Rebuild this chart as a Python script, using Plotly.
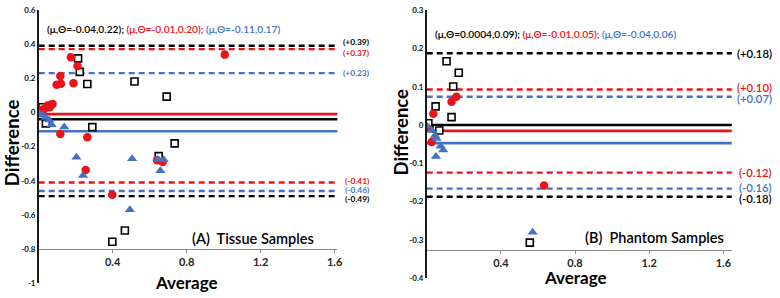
import plotly.graph_objects as go

W, H = 780, 298

# ---------------- Panel A : Tissue samples ----------------
sqA_x = [0.0, 0.02, 0.039, 0.213, 0.222, 0.263, 0.518, 0.692, 0.29, 0.735, 0.649, 0.466, 0.398]
sqA_y = [0.01, 0.03, -0.064, 0.316, 0.237, 0.166, 0.181, 0.092, -0.086, -0.181, -0.256, -0.691, -0.757]
rdA_x = [0.004, 0.02, 0.03, 0.048, 0.06, 0.065, 0.075, 0.117, 0.097, 0.12, 0.188, 0.174, 0.21, 1.006,
         0.117, 0.263, 0.64, 0.67, 0.254, 0.398]
rdA_y = [0.002, 0.015, 0.02, 0.04, 0.03, 0.045, 0.049, 0.213, 0.162, 0.168, 0.171, 0.322, 0.271, 0.338,
         -0.126, -0.146, -0.28, -0.29, -0.337, -0.482]
blA_x = [0.004, 0.02, 0.038, 0.057, 0.07, 0.138, 0.204, 0.505, 0.645, 0.676, 0.658, 0.24, 0.493]
blA_y = [-0.008, -0.017, -0.03, -0.045, -0.073, -0.086, -0.262, -0.271, -0.275, -0.277, -0.341, -0.369, -0.569]
meanA = [-0.04, -0.01, -0.11]          # black, red, blue
upperA = [0.39, 0.37, 0.23]
lowerA = [-0.49, -0.41, -0.46]
upperA_txt = ["(+0.39)", "(+0.37)", "(+0.23)"]
lowerA_txt = ["(-0.49)", "(-0.41)", "(-0.46)"]
statsA = ["(μ,Θ=-0.04,0.22); ", "(μ,Θ=-0.01,0.20); ", "(μ,Θ=-0.11,0.17)"]
yticksA = [0.6, 0.4, 0.2, 0, -0.2, -0.4, -0.6, -0.8, -1]
yticksA_txt = ["0.6", "0.4", "0.2", "0", "-0.2", "-0.4", "-0.6", "-0.8", "-1"]

# ---------------- Panel B : Phantom samples ----------------
sqB_x = [0.009, 0.053, 0.068, 0.048, 0.134, 0.143, 0.107, 0.173, 0.556]
sqB_y = [0.005, -0.009, -0.014, 0.049, 0.021, 0.101, 0.167, 0.137, -0.307]
rdB_x = [0.0, 0.027, 0.036, 0.134, 0.16, 0.633]
rdB_y = [-0.006, -0.044, 0.03, 0.061, 0.074, -0.158]
blB_x = [0.0, 0.027, 0.045, 0.053, 0.075, 0.089, 0.05, 0.571]
blB_y = [-0.002, -0.014, -0.027, -0.035, -0.055, -0.065, -0.082, -0.28]
meanB = [0.0004, -0.015, -0.047]
upperB = [0.188, 0.093, 0.074]
lowerB = [-0.187, -0.124, -0.166]
upperB_txt = ["(+0.18)", "(+0.10)", "(+0.07)"]
lowerB_txt = ["(-0.18)", "(-0.12)", "(-0.16)"]
statsB = ["(μ,Θ=0.0004,0.09); ", "(μ,Θ=-0.01,0.05); ", "(μ,Θ=-0.04,0.06)"]
yticksB = [0.3, 0.2, 0.1, 0, -0.1, -0.2, -0.3, -0.4]
yticksB_txt = ["0.3", "0.2", "0.1", "0", "-0.1", "-0.2", "-0.3", "-0.4"]

xticks = [0.4, 0.8, 1.2, 1.6]
xticks_txt = ["0.4", "0.8", "1.2", "1.6"]

BLACK, RED, BLUE = "#000000", "#E8131B", "#4472C4"
COLORS = [BLACK, RED, BLUE]
FONT = "Lato"

fig = go.Figure()


def px(x):
    return x / W


def py(y):
    return 1 - y / H


def panel(xa, ya, sqx, sqy, rdx, rdy, blx, bly, means, uppers, lowers, xend, xend_mean):
    for c, v in zip(COLORS, means):
        fig.add_trace(go.Scatter(x=[0, xend_mean], y=[v, v], mode="lines",
                                 line=dict(color=c, width=2.6), xaxis=xa, yaxis=ya,
                                 hoverinfo="skip", showlegend=False))
    for c, v in list(zip(COLORS, uppers)) + list(zip(COLORS, lowers)):
        fig.add_trace(go.Scatter(x=[0, xend], y=[v, v], mode="lines",
                                 line=dict(color=c, width=2.4, dash="6px,4px"), xaxis=xa, yaxis=ya,
                                 hoverinfo="skip", showlegend=False))
    fig.add_trace(go.Scatter(x=sqx, y=sqy, mode="markers", xaxis=xa, yaxis=ya, showlegend=False,
                             marker=dict(symbol="square", size=7, color="white",
                                         line=dict(color=BLACK, width=1.6))))
    fig.add_trace(go.Scatter(x=rdx, y=rdy, mode="markers", xaxis=xa, yaxis=ya, showlegend=False,
                             marker=dict(symbol="circle", size=8.5, color=RED, line=dict(width=0))))
    fig.add_trace(go.Scatter(x=blx, y=bly, mode="markers", xaxis=xa, yaxis=ya, showlegend=False,
                             marker=dict(symbol="triangle-up", size=9, color=BLUE, line=dict(width=0))))


panel("x", "y", sqA_x, sqA_y, rdA_x, rdA_y, blA_x, blA_y, meanA, upperA, lowerA, 1.6, 1.62)
panel("x2", "y2", sqB_x, sqB_y, rdB_x, rdB_y, blB_x, blB_y, meanB, upperB, lowerB, 1.645, 1.645)

# layout geometry (pixels)
yA_dom = [py(288), py(5)]
yB_dom = [py(282.7), py(5.5)]
yA_rng = [-1, 0.6]
yB_rng = [-0.4, 0.3]
crossA, crossB = -0.8, -0.325


def axis_pos(dom, rng, cross):
    return dom[0] + (cross - rng[0]) / (rng[1] - rng[0]) * (dom[1] - dom[0])


xcommon = dict(showgrid=False, zeroline=False, showline=True, linecolor="#8C8C8C", linewidth=1,
               ticks="outside", ticklen=3, tickcolor="#8C8C8C", tickvals=xticks, ticktext=xticks_txt,
               tickfont=dict(family=FONT, size=11, color="#262626", weight="bold"), anchor="free")
ycommon = dict(showgrid=False, zeroline=False, showline=True, linecolor="#1A1A1A", linewidth=1.6,
               ticks="", tickfont=dict(family=FONT, size=8, color="#111111", weight="bold"))

fig.update_layout(
    width=W, height=H, margin=dict(l=0, r=0, t=0, b=0),
    paper_bgcolor="white", plot_bgcolor="rgba(0,0,0,0)", showlegend=False,
    xaxis=dict(domain=[px(39), px(340)], range=[0, 1.615], position=axis_pos(yA_dom, yA_rng, crossA), **xcommon),
    yaxis=dict(domain=yA_dom, range=yA_rng, anchor="x", tickvals=yticksA, ticktext=yticksA_txt, **ycommon),
    xaxis2=dict(domain=[px(430), px(738)], range=[0, 1.648], position=axis_pos(yB_dom, yB_rng, crossB), **xcommon),
    yaxis2=dict(domain=yB_dom, range=yB_rng, anchor="x2", tickvals=yticksB, ticktext=yticksB_txt, **ycommon),
)

ann = []


def stats_text(parts):
    return "".join(f'<span style="color:{c}">{t}</span>' for c, t in zip(COLORS, parts))


ann.append(dict(text=stats_text(statsA), x=px(45), y=py(25), xref="paper", yref="paper",
                xanchor="left", yanchor="middle", showarrow=False,
                font=dict(family=FONT, size=10.2, color=BLACK, weight=600)))
ann.append(dict(text=stats_text(statsB), x=px(436), y=py(30), xref="paper", yref="paper",
                xanchor="left", yanchor="middle", showarrow=False,
                font=dict(family=FONT, size=10.2, color=BLACK, weight=600)))

# level labels (right-aligned to the figure positions seen in the reference)
shiftsA_up = [4, -4, 0]
shiftsA_lo = [-2.5, 1.3, 1.2]
for c, v, t, s in zip(COLORS, upperA, upperA_txt, shiftsA_up):
    ann.append(dict(text=t, x=px(373), y=v, xref="paper", yref="y", xanchor="right", yanchor="middle",
                    yshift=s, showarrow=False, borderpad=0,
                    font=dict(family=FONT, size=8.4, color=c, weight="bold")))
for c, v, t, s in zip(COLORS, lowerA, lowerA_txt, shiftsA_lo):
    ann.append(dict(text=t, x=px(373), y=v, xref="paper", yref="y", xanchor="right", yanchor="middle",
                    yshift=s, showarrow=False, borderpad=0,
                    font=dict(family=FONT, size=8.4, color=c, weight="bold")))
shiftsB_up = [0, 2.5, -1.8]
shiftsB_lo = [-1.8, 0, 0.8]
for c, v, t, s in zip(COLORS, upperB, upperB_txt, shiftsB_up):
    ann.append(dict(text=t, x=px(779), y=v, xref="paper", yref="y2", xanchor="right", yanchor="middle",
                    yshift=s, showarrow=False, borderpad=0,
                    font=dict(family=FONT, size=11.3, color=c, weight=600)))
for c, v, t, s in zip(COLORS, lowerB, lowerB_txt, shiftsB_lo):
    ann.append(dict(text=t, x=px(779), y=v, xref="paper", yref="y2", xanchor="right", yanchor="middle",
                    yshift=s, showarrow=False, borderpad=0,
                    font=dict(family=FONT, size=11.3, color=c, weight=600)))

# panel labels
ann.append(dict(text="(A)\u00a0\u00a0Tissue Samples", x=px(192), y=py(242), xref="paper", yref="paper",
                xanchor="left", yanchor="middle", showarrow=False, borderpad=0,
                font=dict(family=FONT, size=14.5, color=BLACK, weight=600)))
ann.append(dict(text="(B)\u00a0\u00a0Phantom Samples", x=px(589), y=py(241), xref="paper", yref="paper",
                xanchor="left", yanchor="middle", showarrow=False, borderpad=0,
                font=dict(family=FONT, size=14.5, color=BLACK, weight=600)))

# axis titles
for xc, ys in [(188, -1), (580, 4)]:
    ann.append(dict(text="Average", x=px(xc), y=0, xref="paper", yref="paper", yshift=ys,
                    xanchor="center", yanchor="bottom", showarrow=False, borderpad=0,
                    font=dict(family=FONT, size=17, color=BLACK, weight="bold")))
for xc, yc in [(12, 142), (404, 131)]:
    ann.append(dict(text="Difference", x=px(xc), y=py(yc), xref="paper", yref="paper",
                    xanchor="center", yanchor="middle", textangle=-90, showarrow=False,
                    font=dict(family=FONT, size=18.5, color=BLACK, weight="bold")))

fig.update_layout(annotations=ann)
# remove the browser's default 8px body margin so the figure fills the window exactly
fig.write_html("out.html", config={"displayModeBar": False, "staticPlot": True},
               post_script="document.body.style.margin='0';document.body.style.overflow='hidden';")
